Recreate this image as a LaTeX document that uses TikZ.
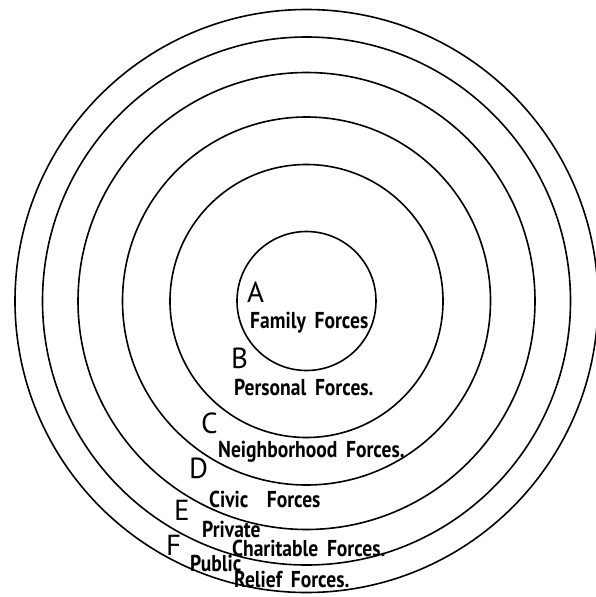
\documentclass[tikz,border=0pt]{standalone}
\usepackage{fontspec}
\setmainfont{PT Sans}[FakeStretch=0.85]
\newfontfamily\letterfont{PT Sans}
\newcommand{\forcesfont}{\bfseries\fontsize{23}{23}\selectfont\spaceskip=0.38em\relax}
\usetikzlibrary{positioning}

\begin{document}
\begin{tikzpicture}[
    x=1pt, y=-1pt,
    ring/.style={draw, line width=1.6pt},
    letter/.style={anchor=base west, inner sep=0pt, font=\letterfont\fontsize{29}{29}\selectfont},
    forces/.style={anchor=base west, inner sep=0pt, font=\forcesfont}
]
\useasboundingbox (0,0) rectangle (596,597);
\coordinate (mid) at (306.5,301);

% six rings round the family
\draw[ring] (mid) circle[radius=69.5pt];
\draw[ring] (mid) circle[radius=136.5pt];
\draw[ring] (mid) circle[radius=184pt];
\draw[ring] (mid) circle[radius=228.5pt];
\draw[ring] (mid) circle[radius=264pt];
\draw[ring] (mid) circle[radius=291.5pt];

\node[letter] (ringA) at (247,302) {A};
\node[forces] (family) at (250,328) {Family Forces};
\node[letter] (ringB) at (231,368) {B};
\node[forces] (personal) at (234,395) {Personal Forces.};
\node[letter] (ringC) at (201,433) {C};
\node[forces] (neighbor) at (218,457) {Neighborhood Forces.};
\node[letter] (ringD) at (189,478) {D};
\node[forces] (civic) at (209,507) {Civic\hspace{0.8em}Forces};
\node[letter] (ringE) at (174,520) {E};
\node[forces] (private) at (202,537) {Private};
\node[forces] (charity) at (232,556) {Charitable Forces.};
\node[letter] (ringF) at (166,555) {F};
\node[forces] (public) at (190,571) {Public};
\node[forces] (relief) at (234,587) {Relief Forces.};
\end{tikzpicture}
\end{document}
